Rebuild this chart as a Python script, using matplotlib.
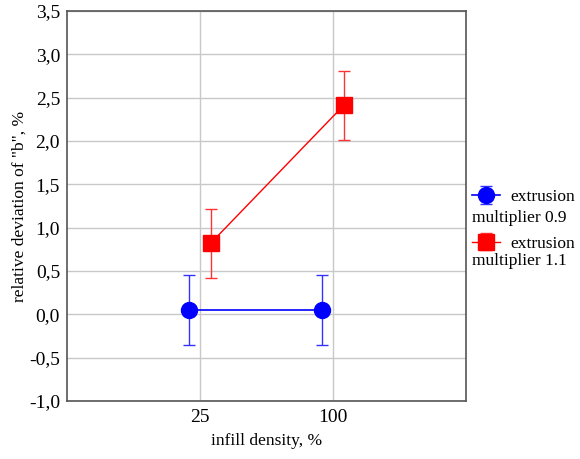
import matplotlib.pyplot as plt
import matplotlib.ticker as mticker
import numpy as np

plt.rcParams['font.family'] = ['Liberation Serif', 'DejaVu Serif']

# dados
densidades = ['25', '100']
media_09 = [0.05, 0.05]
erro_09 = [0.40, 0.40]
media_11 = [0.82, 2.41]
erro_11 = [0.40, 0.40]
rotulos = ['extrusion multiplier 0.9', 'extrusion multiplier 1.1']

fig = plt.figure(figsize=(5.8, 4.59), dpi=100)
ax = fig.add_axes([67 / 580, 58 / 459, 399 / 580, 390 / 459])

x = np.arange(1, len(densidades) + 1)
desloc = 0.08

ax.errorbar(x - desloc, media_09, yerr=erro_09, color='#0000ff', ecolor='#3333ff',
            marker='o', markersize=11.5, linewidth=1.2, elinewidth=1.0,
            capsize=4.5, capthick=1.0, label=rotulos[0], zorder=3)
ax.errorbar(x + desloc, media_11, yerr=erro_11, color='#ff0000', ecolor='#ff3333',
            marker='s', markersize=11.5, linewidth=1.0, elinewidth=1.0,
            capsize=4.5, capthick=1.0, label=rotulos[1], zorder=3)

ax.set_xlim(0, len(densidades) + 1)
ax.set_ylim(-1.0, 3.5)
ax.set_xticks(x)
ax.set_xticklabels(densidades)
ax.yaxis.set_major_locator(mticker.MultipleLocator(0.5))
ax.yaxis.set_major_formatter(mticker.FuncFormatter(lambda v, _: f'{v:.1f}'.replace('.', ',')))

ax.grid(True, color='#c8c8c8', linewidth=1.0)
ax.set_axisbelow(True)
for s in ax.spines.values():
    s.set_color('#555555')
    s.set_linewidth(1.2)
ax.tick_params(axis='x', length=0, labelsize=14, pad=6, colors='black')
ax.tick_params(axis='y', length=0, labelsize=14, pad=5, colors='black')

ax.set_xlabel('infill density, %', fontsize=12.5, labelpad=5)
ax.set_ylabel('relative deviation of "b", %', fontsize=12.5, labelpad=1)

# legenda: primeira linha ao lado do marcador, segunda linha abaixo
leg = fig.legend(loc='upper left', bbox_to_anchor=(472 / 580, 1 - 189 / 459),
                 labels=['extrusion', 'extrusion'], frameon=False, fontsize=12.5,
                 handlelength=1.6, handletextpad=0.6, labelspacing=1.75,
                 borderaxespad=0, borderpad=0)
fig.text(472 / 580, 1 - 218 / 459, 'multiplier 0.9', fontsize=12.5, va='center')
fig.text(472 / 580, 1 - 261 / 459, 'multiplier 1.1', fontsize=12.5, va='center')

fig.savefig('out.png', dpi=100)
